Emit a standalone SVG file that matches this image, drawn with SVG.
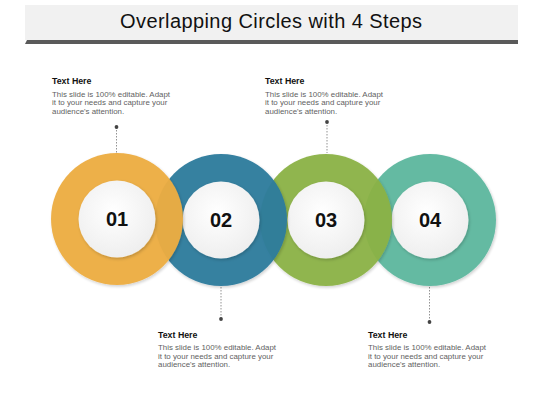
<svg xmlns="http://www.w3.org/2000/svg" width="543" height="403" viewBox="0 0 543 403">
<style>
.title{font-family:"Liberation Sans",Arial,sans-serif;font-size:20px;fill:#111;}
.hd{font-family:"Liberation Sans",Arial,sans-serif;font-size:8.8px;font-weight:bold;fill:#111;}
.bd{font-family:"Liberation Sans",Arial,sans-serif;font-size:7.9px;fill:#5f5f5f;}
.num{font-family:"Liberation Sans",Arial,sans-serif;font-size:20px;font-weight:bold;fill:#111;text-anchor:middle;}
.lead{stroke:#777;stroke-width:0.8;stroke-dasharray:1.5 1.5;fill:none;}
.dot{fill:#444;}
.inner{fill:url(#wg);}
</style>
<defs>
<radialGradient id="wg" cx="0.45" cy="0.4" r="0.65">
<stop offset="0" stop-color="#ffffff"/>
<stop offset="1" stop-color="#ededed"/>
</radialGradient>
<filter id="sh" x="-20%" y="-20%" width="140%" height="140%">
<feDropShadow dx="1" dy="1.5" stdDeviation="1.5" flood-color="#000" flood-opacity="0.2"/>
</filter>
</defs>
<rect width="543" height="403" fill="#ffffff"/>
<g id="title">
<rect x="25" y="5" width="493" height="35" fill="#f1f1f1"/>
<polygon points="27,40 518,40 518,44 25,44" fill="#5a5a5a"/>
<text class="title" x="120" y="28" textLength="302" lengthAdjust="spacing">Overlapping Circles with 4 Steps</text>
</g>
<g id="connectors">
<line class="lead" x1="116.5" y1="127" x2="116.5" y2="153"/>
<circle class="dot" cx="116.5" cy="127" r="1.9"/>
<line class="lead" x1="327" y1="122" x2="327" y2="153"/>
<circle class="dot" cx="327" cy="122" r="1.9"/>
<line class="lead" x1="221" y1="287" x2="221" y2="319"/>
<circle class="dot" cx="221" cy="319" r="1.9"/>
<line class="lead" x1="429.5" y1="287" x2="429.5" y2="322"/>
<circle class="dot" cx="429.5" cy="322" r="1.9"/>
</g>
<g id="step4">
<circle cx="430" cy="220" r="66" fill="#5fb8a0" opacity="0.97" filter="url(#sh)"/>
<circle class="inner" cx="430" cy="220" r="38.5" filter="url(#sh)"/>
<text class="num" x="430" y="227">04</text>
</g>
<g id="step3">
<circle cx="326" cy="220" r="66" fill="#8bb245" opacity="0.95" filter="url(#sh)"/>
<circle class="inner" cx="326" cy="220" r="38.5" filter="url(#sh)"/>
<text class="num" x="326" y="227">03</text>
</g>
<g id="step2">
<circle cx="221" cy="220" r="66" fill="#2d7b9d" opacity="0.96" filter="url(#sh)"/>
<circle class="inner" cx="221" cy="220" r="38.5" filter="url(#sh)"/>
<text class="num" x="221" y="227">02</text>
</g>
<g id="step1">
<circle cx="117" cy="219" r="66" fill="#edad43" opacity="0.96" filter="url(#sh)"/>
<circle class="inner" cx="117" cy="219" r="38.5" filter="url(#sh)"/>
<text class="num" x="117" y="226">01</text>
</g>
<g id="text1">
<text class="hd" x="52" y="84">Text Here</text>
<text class="bd" x="52" y="96.5">This slide is 100% editable. Adapt</text>
<text class="bd" x="52" y="105">it to your needs and capture your</text>
<text class="bd" x="52" y="113.5">audience's attention.</text>
</g>
<g id="text2">
<text class="hd" x="265" y="84">Text Here</text>
<text class="bd" x="265" y="96.5">This slide is 100% editable. Adapt</text>
<text class="bd" x="265" y="105">it to your needs and capture your</text>
<text class="bd" x="265" y="113.5">audience's attention.</text>
</g>
<g id="text3">
<text class="hd" x="158" y="337.5">Text Here</text>
<text class="bd" x="158" y="350">This slide is 100% editable. Adapt</text>
<text class="bd" x="158" y="358.5">it to your needs and capture your</text>
<text class="bd" x="158" y="367">audience's attention.</text>
</g>
<g id="text4">
<text class="hd" x="368" y="337.5">Text Here</text>
<text class="bd" x="368" y="350">This slide is 100% editable. Adapt</text>
<text class="bd" x="368" y="358.5">it to your needs and capture your</text>
<text class="bd" x="368" y="367">audience's attention.</text>
</g>
</svg>
